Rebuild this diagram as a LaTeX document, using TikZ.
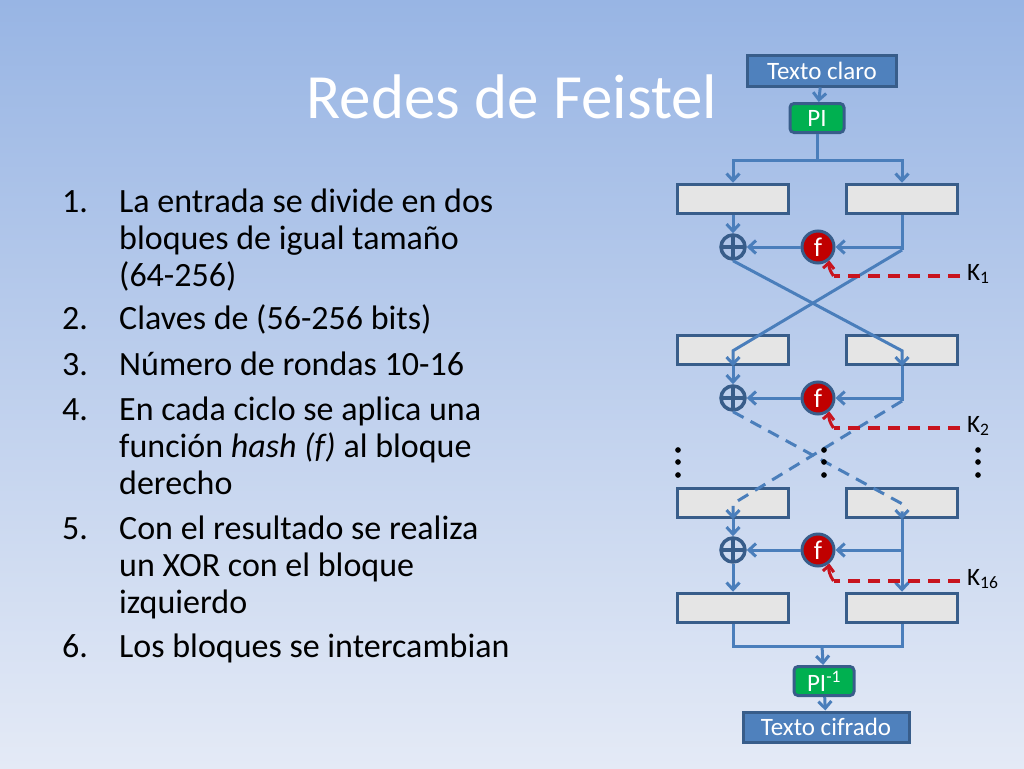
\documentclass[tikz,border=0pt]{standalone}
\usepackage{fontspec}
\setmainfont{Carlito}
\usetikzlibrary{arrows.meta}
\definecolor{bgtop}{RGB}{152,181,228}
\definecolor{bgbot}{RGB}{228,234,246}
\definecolor{boxblue}{RGB}{79,129,189}
\definecolor{edgeblue}{RGB}{56,93,138}
\definecolor{lineblue}{RGB}{74,126,187}
\definecolor{pigreen}{RGB}{0,176,80}
\definecolor{fred}{RGB}{192,0,0}
\definecolor{kred}{RGB}{200,20,30}
\tikzset{
  txtbox/.style={draw=edgeblue, line width=3pt, fill=boxblue, text=white, font=\fontsize{25}{28}\selectfont, minimum height=30pt, inner sep=0pt},
  pibox/.style={draw=edgeblue, line width=3pt, fill=pigreen, text=white, rounded corners=4pt, font=\fontsize{25}{28}\selectfont, minimum height=29pt, inner sep=0pt},
  half/.style={draw=edgeblue, line width=3.5pt, fill=gray!20, minimum width=111pt, minimum height=29pt, inner sep=0pt},
  fbox/.style={circle, draw=edgeblue, line width=3pt, fill=fred, text=white, minimum size=32pt, inner sep=0pt, font=\fontsize{27}{28}\selectfont},
  xorbox/.style={circle, draw=edgeblue, line width=3.5pt, minimum size=24pt, inner sep=0pt,
    path picture={\draw[edgeblue, line width=3.5pt] (path picture bounding box.north) -- (path picture bounding box.south) (path picture bounding box.west) -- (path picture bounding box.east);}},
  flow/.style={draw=lineblue, line width=3pt},
  arr/.style={flow, -{Straight Barb[length=7pt, width=13pt]}},
  key/.style={draw=kred, line width=3.5pt, dashed, dash pattern=on 12pt off 8pt},
  klabel/.style={font=\fontsize{25}{28}\selectfont, anchor=west, inner sep=0pt},
  item/.style={anchor=north west, inner sep=0pt, align=left, font=\fontsize{34}{37}\selectfont},
  dots/.style={fill=black, circle, inner sep=2pt}
}
\begin{document}
\begin{tikzpicture}[x=1pt, y=-1pt]
  \shade[top color=bgtop, bottom color=bgbot] (0,0) rectangle (1024,768);
  \useasboundingbox (0,0) rectangle (1024,768);
  % titulo y lista
  \node[text=white, font=\fontsize{63}{66}\selectfont] (title) at (512,97) {Redes de Feistel};
  \foreach \n/\y/\t in {1/186/{La entrada se divide en dos\\bloques de igual tamaño\\(64-256)},
                        2/303/{Claves de (56-256 bits)},
                        3/349/{Número de rondas 10-16},
                        4/394/{En cada ciclo se aplica una\\función \emph{hash (f)} al bloque\\derecho},
                        5/513/{Con el resultado se realiza\\un XOR con el bloque\\izquierdo},
                        6/631/{Los bloques se intercambian}} {
    \node[item] (num\n) at (62,\y) {\strut\n.};
    \node[item] (item\n) at (119,\y) {\strut\t};
  }
  % entrada
  \node[txtbox, minimum width=149pt] (claro) at (822,71) {Texto claro};
  \node[pibox, minimum width=54pt] (pi) at (817,118) {PI};
  \node[half] (l1) at (733,199) {};
  \node[half] (r1) at (902,199) {};
  \node[half] (l2) at (733,350) {};
  \node[half] (r2) at (902,350) {};
  \node[half] (l3) at (733,503) {};
  \node[half] (r3) at (902,503) {};
  \node[half] (l4) at (733,608) {};
  \node[half] (r4) at (902,608) {};
  \node[xorbox] (x1) at (733,247) {};
  \node[xorbox] (x2) at (733,398) {};
  \node[xorbox] (x3) at (733,550) {};
  \node[fbox] (f1) at (818,247) {f};
  \node[fbox] (f2) at (818,398) {f};
  \node[fbox] (f3) at (818,550) {f};
  \node[pibox, minimum width=60pt] (pinv) at (824,681) {PI\textsuperscript{-1}};
  \node[txtbox, minimum width=166pt] (cifrado) at (826,727) {Texto cifrado};
  \node[klabel] (k1) at (967,274) {K\textsubscript{1}};
  \node[klabel] (k2) at (967,426) {K\textsubscript{2}};
  \node[klabel] (k16) at (967,579) {K\textsubscript{16}};
  \coordinate (split) at (817,160);
  \coordinate (join) at (822,646);
  % conexiones
  \draw[arr] (claro) -- (pi);
  \draw[flow] (pi) -- (split);
  \draw[arr] (split) -| (l1);
  \draw[arr] (split) -| (r1);
  \foreach \l/\r/\x/\f in {l1/r1/x1/f1, l2/r2/x2/f2, l3/r3/x3/f3} {
    \draw[arr] (\l) -- (\x);
    \draw[arr] (\r.south |- \f) -- (\f);
    \draw[arr] (\f) -- (\x);
  }
  \draw[flow] (r1) -- ++(0,51) coordinate (c1);
  \draw[arr] (x1.south) -- ([yshift=-17pt]r2.north) -- (r2);
  \draw[arr] (c1) -- ([yshift=-17pt]l2.north) -- (l2);
  \draw[flow] (r2) -- ++(0,51) coordinate (c2);
  \draw[arr, dashed, dash pattern=on 12pt off 8pt] (x2.south) -- ([yshift=-17pt]r3.north) -- (r3);
  \draw[arr, dashed, dash pattern=on 12pt off 8pt] (c2) -- ([yshift=-17pt]l3.north) -- (l3);
  \draw[arr] (x3) -- (l4);
  \draw[arr] (r3) -- (r4);
  \draw[flow] (l4.south) |- (join) -| (r4.south);
  \draw[arr] (join) -- (pinv);
  \draw[arr] (pinv) -- (cifrado);
  % claves
  \foreach \k/\f in {k1/f1, k2/f2, k16/f3} {
    \draw[key] ([xshift=-7pt, yshift=-2pt]\k.west) -- ([xshift=-2pt, yshift=-2pt]\k.west -| \f.east);
    \draw[kred, line width=3pt, -{Straight Barb[length=6pt, width=11pt]}] ([xshift=-2pt, yshift=-2pt]\k.west -| \f.east) to[bend left=20] (\f.-50);
  }
  % puntos
  \foreach \x in {678,824,978}
    \foreach \y in {450,462,475}
      \node[dots] at (\x,\y) {};
\end{tikzpicture}
\end{document}
